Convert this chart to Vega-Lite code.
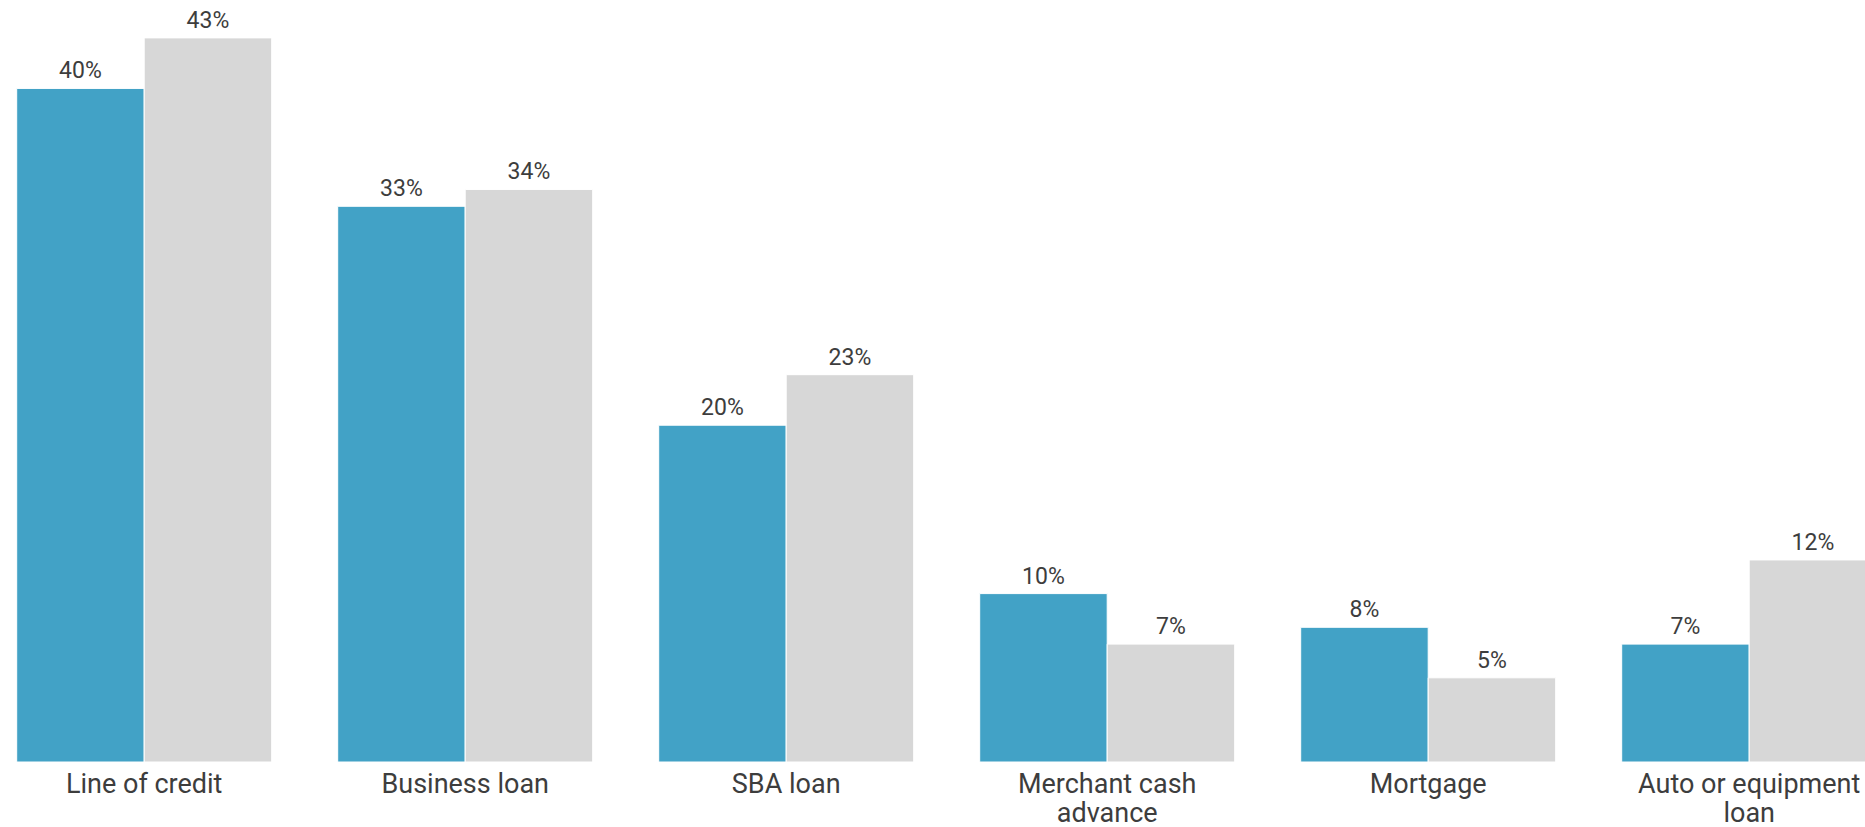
{
  "$schema": "https://vega.github.io/schema/vega-lite/v6.json",
  "width": 1865,
  "height": 762,
  "autosize": {"type": "none"},
  "padding": {"left": 0, "top": 0, "right": 0, "bottom": 65},
  "background": "white",
  "config": {"view": {"stroke": null}, "font": "Roboto"},
  "data": {
    "values": [
      {"category": "Line of credit", "series": "Group 1", "value": 0.40},
      {"category": "Line of credit", "series": "Group 2", "value": 0.43},
      {"category": "Business loan", "series": "Group 1", "value": 0.33},
      {"category": "Business loan", "series": "Group 2", "value": 0.34},
      {"category": "SBA loan", "series": "Group 1", "value": 0.20},
      {"category": "SBA loan", "series": "Group 2", "value": 0.23},
      {"category": "Merchant cash advance", "series": "Group 1", "value": 0.10},
      {"category": "Merchant cash advance", "series": "Group 2", "value": 0.07},
      {"category": "Mortgage", "series": "Group 1", "value": 0.08},
      {"category": "Mortgage", "series": "Group 2", "value": 0.05},
      {"category": "Auto or equipment loan", "series": "Group 1", "value": 0.07},
      {"category": "Auto or equipment loan", "series": "Group 2", "value": 0.12}
    ]
  },
  "encoding": {
    "x": {
      "field": "category",
      "type": "nominal",
      "sort": null,
      "scale": {"range": [16.7, 1876.7], "paddingInner": 0.2056, "paddingOuter": 0},
      "axis": {
        "title": null,
        "domain": false,
        "ticks": false,
        "tickSize": 0,
        "labelAngle": 0,
        "labelFont": "Roboto",
        "labelFontSize": 27,
        "labelColor": "#3d3d3d",
        "labelPadding": 9,
        "labelBaseline": "top",
        "labelLineHeight": 29,
        "labelLimit": 0,
        "labelOverlap": false,
        "labelExpr": "datum.value == 'Merchant cash advance' ? ['Merchant cash', 'advance'] : datum.value == 'Auto or equipment loan' ? ['Auto or equipment', 'loan'] : datum.value"
      }
    },
    "xOffset": {"field": "series", "type": "nominal", "scale": {"paddingInner": 0, "paddingOuter": 0}},
    "y": {
      "field": "value",
      "type": "quantitative",
      "scale": {"domain": [0, 0.4525], "nice": false, "zero": true},
      "axis": null
    }
  },
  "layer": [
    {
      "mark": {"type": "bar", "stroke": "white", "strokeWidth": 1, "clip": true},
      "encoding": {
        "color": {
          "field": "series",
          "type": "nominal",
          "scale": {"domain": ["Group 1", "Group 2"], "range": ["#42A2C6", "#D7D7D7"]},
          "legend": null
        }
      }
    },
    {
      "mark": {"type": "text", "baseline": "alphabetic", "dy": -10, "fontSize": 23, "font": "Roboto", "color": "#3d3d3d"},
      "encoding": {
        "text": {"field": "value", "type": "quantitative", "format": ".0%"}
      }
    }
  ]
}
